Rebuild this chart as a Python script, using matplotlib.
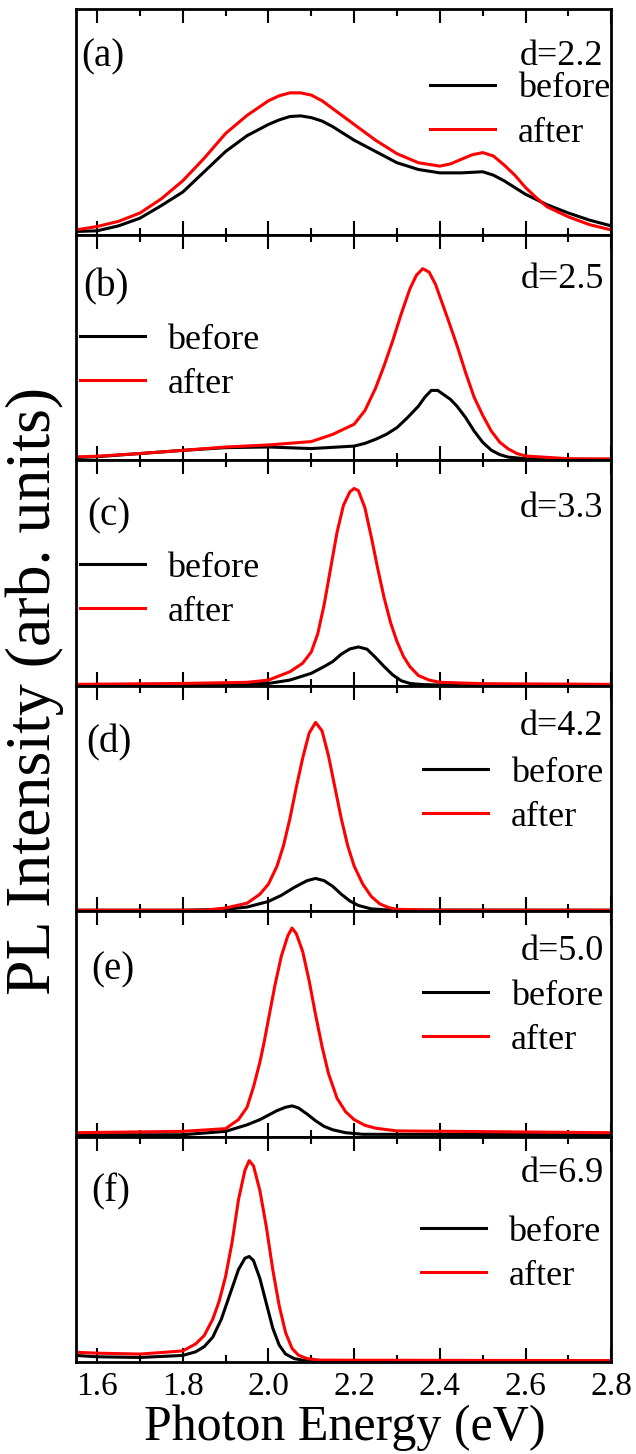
import matplotlib
matplotlib.use("Agg")
import matplotlib.pyplot as plt
from matplotlib.ticker import MultipleLocator, FormatStrFormatter
from matplotlib.lines import Line2D


# -------------------------------------------------
# DATA (intensity as fraction of panel height)
# -------------------------------------------------

panel_tags = ["(a)", "(b)", "(c)", "(d)", "(e)", "(f)"]
thickness = ["d=2.2", "d=2.5", "d=3.3", "d=4.2", "d=5.0", "d=6.9"]

# (a)
E_a_before = [1.55, 1.60, 1.65, 1.70, 1.75, 1.80, 1.85, 1.90, 1.95, 2.00, 2.025, 2.05, 2.075,
              2.10, 2.125, 2.15, 2.20, 2.25, 2.30, 2.35, 2.40, 2.45, 2.50, 2.525, 2.55, 2.575,
              2.60, 2.65, 2.70, 2.75, 2.80]
a_before = [0.015, 0.018, 0.04, 0.074, 0.13, 0.19, 0.28, 0.37, 0.44, 0.49, 0.51, 0.525, 0.528,
            0.52, 0.505, 0.48, 0.42, 0.37, 0.32, 0.29, 0.275, 0.275, 0.28, 0.265, 0.24, 0.21,
            0.18, 0.134, 0.097, 0.065, 0.04]
E_a_after = [1.55, 1.60, 1.65, 1.70, 1.75, 1.80, 1.85, 1.90, 1.95, 2.00, 2.025, 2.05, 2.075,
             2.10, 2.125, 2.15, 2.20, 2.25, 2.30, 2.35, 2.40, 2.425, 2.45, 2.475, 2.50, 2.525,
             2.55, 2.575, 2.60, 2.625, 2.65, 2.70, 2.75, 2.80]
a_after = [0.022, 0.037, 0.06, 0.097, 0.16, 0.24, 0.34, 0.45, 0.53, 0.595, 0.617, 0.63, 0.63,
           0.62, 0.595, 0.56, 0.49, 0.42, 0.36, 0.32, 0.305, 0.315, 0.335, 0.355, 0.365, 0.35,
           0.31, 0.265, 0.21, 0.165, 0.125, 0.08, 0.045, 0.022]

# (b)
E_b_before = [1.55, 1.60, 1.70, 1.80, 1.90, 2.00, 2.10, 2.20, 2.225, 2.25, 2.275, 2.30, 2.325,
              2.35, 2.365, 2.38, 2.395, 2.41, 2.425, 2.44, 2.46, 2.48, 2.50, 2.52, 2.54, 2.56,
              2.60, 2.70, 2.80]
b_before = [0.012, 0.016, 0.03, 0.044, 0.056, 0.059, 0.052, 0.063, 0.075, 0.093, 0.115, 0.145,
            0.19, 0.24, 0.28, 0.31, 0.31, 0.29, 0.27, 0.24, 0.19, 0.13, 0.08, 0.045, 0.025,
            0.014, 0.007, 0.004, 0.004]
E_b_after = [1.55, 1.60, 1.70, 1.80, 1.90, 2.00, 2.10, 2.15, 2.20, 2.225, 2.25, 2.27, 2.29,
             2.31, 2.33, 2.345, 2.36, 2.375, 2.39, 2.405, 2.42, 2.44, 2.46, 2.48, 2.50, 2.52,
             2.54, 2.56, 2.58, 2.60, 2.70, 2.80]
b_after = [0.015, 0.018, 0.03, 0.044, 0.059, 0.068, 0.083, 0.115, 0.16, 0.22, 0.32, 0.42, 0.53,
           0.65, 0.76, 0.82, 0.85, 0.835, 0.78, 0.70, 0.62, 0.51, 0.39, 0.28, 0.2, 0.13,
           0.08, 0.05, 0.03, 0.019, 0.007, 0.006]

# (c)
E_c_before = [1.55, 1.80, 2.00, 2.05, 2.10, 2.13, 2.15, 2.17, 2.19, 2.21, 2.23, 2.25, 2.27,
              2.29, 2.31, 2.33, 2.36, 2.40, 2.80]
c_before = [0.004, 0.006, 0.01, 0.025, 0.055, 0.085, 0.107, 0.14, 0.163, 0.172, 0.162, 0.125,
            0.085, 0.048, 0.022, 0.01, 0.005, 0.003, 0.003]
E_c_after = [1.55, 1.80, 1.95, 2.00, 2.05, 2.08, 2.10, 2.115, 2.13, 2.145, 2.16, 2.175, 2.19,
             2.20, 2.21, 2.225, 2.24, 2.255, 2.27, 2.285, 2.30, 2.315, 2.33, 2.35, 2.375, 2.40,
             2.50, 2.80]
c_after = [0.006, 0.01, 0.015, 0.025, 0.062, 0.10, 0.15, 0.23, 0.36, 0.52, 0.68, 0.80, 0.86,
           0.875, 0.865, 0.79, 0.66, 0.52, 0.39, 0.28, 0.196, 0.13, 0.085, 0.045, 0.025, 0.015,
           0.009, 0.006]

# (d)
E_d_before = [1.55, 1.80, 1.90, 1.95, 2.00, 2.03, 2.06, 2.09, 2.11, 2.13, 2.15, 2.17, 2.19,
              2.21, 2.24, 2.28, 2.80]
d_before = [0.004, 0.004, 0.008, 0.018, 0.043, 0.07, 0.105, 0.135, 0.145, 0.135, 0.11, 0.075,
            0.045, 0.025, 0.01, 0.005, 0.004]
E_d_after = [1.55, 1.85, 1.90, 1.95, 1.98, 2.00, 2.02, 2.035, 2.05, 2.065, 2.08, 2.095, 2.11,
             2.125, 2.14, 2.155, 2.17, 2.185, 2.20, 2.22, 2.24, 2.26, 2.28, 2.30, 2.40, 2.80]
d_after = [0.004, 0.004, 0.014, 0.035, 0.075, 0.12, 0.2, 0.29, 0.41, 0.55, 0.68, 0.79, 0.837,
           0.8, 0.69, 0.55, 0.41, 0.29, 0.2, 0.12, 0.065, 0.032, 0.016, 0.008, 0.004, 0.004]

# (e)
E_e_before = [1.55, 1.80, 1.90, 1.95, 1.98, 2.00, 2.02, 2.04, 2.055, 2.07, 2.09, 2.11, 2.13,
              2.15, 2.18, 2.22, 2.80]
e_before = [0.008, 0.008, 0.023, 0.052, 0.075, 0.095, 0.115, 0.13, 0.136, 0.127, 0.1, 0.07,
            0.045, 0.03, 0.017, 0.01, 0.008]
E_e_after = [1.55, 1.80, 1.90, 1.93, 1.95, 1.965, 1.98, 1.99, 2.00, 2.015, 2.03, 2.045, 2.055,
             2.065, 2.08, 2.095, 2.11, 2.125, 2.14, 2.16, 2.18, 2.20, 2.225, 2.25, 2.30, 2.80]
e_after = [0.017, 0.023, 0.035, 0.075, 0.13, 0.22, 0.33, 0.42, 0.52, 0.67, 0.80, 0.89, 0.925,
           0.9, 0.82, 0.69, 0.54, 0.40, 0.28, 0.17, 0.11, 0.075, 0.05, 0.037, 0.025, 0.017]

# (f)
E_f_before = [1.55, 1.60, 1.70, 1.80, 1.83, 1.85, 1.87, 1.89, 1.91, 1.93, 1.945, 1.955, 1.965,
              1.98, 1.995, 2.01, 2.025, 2.04, 2.06, 2.08, 2.10, 2.80]
f_before = [0.029, 0.023, 0.02, 0.029, 0.045, 0.068, 0.11, 0.19, 0.3, 0.41, 0.46, 0.468, 0.45,
            0.37, 0.26, 0.15, 0.075, 0.035, 0.015, 0.008, 0.004, 0.004]
E_f_after = [1.55, 1.60, 1.70, 1.80, 1.83, 1.85, 1.87, 1.885, 1.90, 1.915, 1.93, 1.945, 1.955,
             1.965, 1.98, 1.995, 2.01, 2.025, 2.04, 2.055, 2.07, 2.09, 2.12, 2.80]
f_after = [0.043, 0.039, 0.035, 0.049, 0.08, 0.117, 0.19, 0.27, 0.38, 0.53, 0.72, 0.85, 0.893,
           0.87, 0.76, 0.6, 0.41, 0.25, 0.13, 0.06, 0.03, 0.015, 0.008, 0.006]

before_x = [E_a_before, E_b_before, E_c_before, E_d_before, E_e_before, E_f_before]
before_y = [a_before, b_before, c_before, d_before, e_before, f_before]
after_x = [E_a_after, E_b_after, E_c_after, E_d_after, E_e_after, E_f_after]
after_y = [a_after, b_after, c_after, d_after, e_after, f_after]


# -------------------------------------------------
# LAYOUT / STYLE
# -------------------------------------------------

plt.rcParams["font.family"] = ["Liberation Serif", "DejaVu Serif"]

# label baselines and legend placement (axes fraction)
tag_x = [0.011, 0.014, 0.021, 0.019, 0.03, 0.03]
tag_y = [0.746, 0.726, 0.713, 0.702, 0.697, 0.71]
d_y = [0.755, 0.763, 0.75, 0.78, 0.785, 0.80]
leg_x = [0.662, 0.008, 0.008, 0.649, 0.649, 0.645]
leg_y = [0.550, 0.435, 0.423, 0.515, 0.526, 0.478]

fig, axes = plt.subplots(6, 1, sharex=True, figsize=(6.36, 14.54), dpi=100)
fig.subplots_adjust(left=0.119, right=0.961, bottom=0.0633, top=0.9935, hspace=0)

for i, ax in enumerate(axes):
    ax.plot(before_x[i], before_y[i], color="black", lw=2.2)
    ax.plot(after_x[i], after_y[i], color="red", lw=2.2)

    ax.set_xlim(1.55, 2.8)
    ax.set_ylim(0, 1)
    ax.set_yticks([])

    ax.xaxis.set_major_locator(MultipleLocator(0.2))
    ax.xaxis.set_minor_locator(MultipleLocator(0.1))
    ax.tick_params(axis="x", which="major", direction="in", top=True,
                   length=10, width=1.5, labelsize=24, pad=7)
    ax.tick_params(axis="x", which="minor", direction="in", top=True,
                   length=5, width=1.5)
    for s in ax.spines.values():
        s.set_linewidth(2.0)

    ax.text(tag_x[i], tag_y[i], panel_tags[i], transform=ax.transAxes,
            fontsize=28, va="baseline", ha="left")
    ax.text(0.986, d_y[i], thickness[i], transform=ax.transAxes,
            fontsize=26, va="baseline", ha="right")

    handles = [Line2D([], [], color="black", lw=2.2),
               Line2D([], [], color="red", lw=2.2)]
    ax.legend(handles, ["before", "after"], loc="center left",
              bbox_to_anchor=(leg_x[i], leg_y[i]), frameon=False,
              fontsize=26, handlelength=1.8, handletextpad=0.62,
              labelspacing=0.3, borderpad=0, borderaxespad=0)

axes[-1].xaxis.set_major_formatter(FormatStrFormatter("%.1f"))

fig.text(0.542, 0.0096, "Photon Energy (eV)", fontsize=36, ha="center", va="baseline")
fig.text(0.055, 0.525, "PL Intensity (arb. units)", fontsize=46, rotation=90,
         ha="center", va="center")

fig.savefig("out.png", dpi=100)
